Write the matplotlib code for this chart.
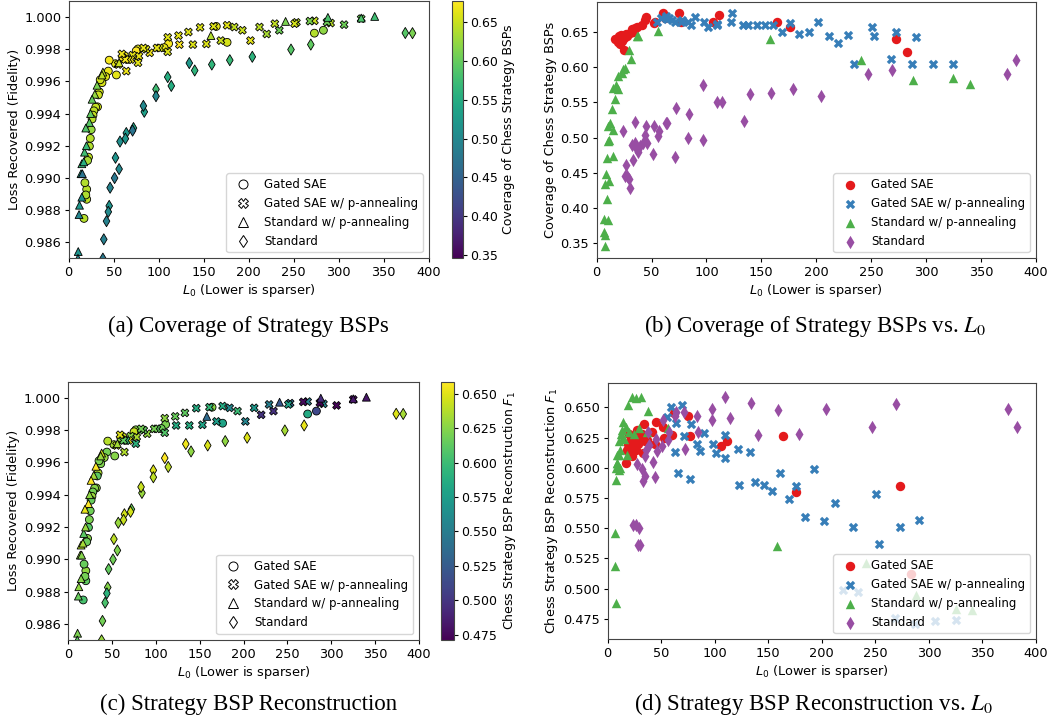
import numpy as np
import matplotlib
matplotlib.use('Agg')
import matplotlib.pyplot as plt
from matplotlib.colors import Normalize
from matplotlib.lines import Line2D

# ---- data: one entry per SAE (L0, fidelity, BSP coverage, BSP F1) ----
series_names = ['Gated SAE', 'Gated SAE w/ p-annealing',
                'Standard w/ p-annealing', 'Standard']

gated_l0 = [283, 273, 176, 164, 111, 106, 77, 75, 62, 60, 53, 52, 45, 44, 41, 37, 35,
            34, 33, 32, 30, 28, 27, 26, 25, 24, 23, 22, 21, 20, 20, 19, 18, 17]
gated_fid = [0.99918, 0.99900, 0.99843, 0.99942, 0.99835, 0.99810, 0.99802, 0.99790,
             0.99760, 0.99750, 0.99640, 0.99710, 0.99732, 0.99664, 0.99630, 0.99592,
             0.99610, 0.99535, 0.99516, 0.99442, 0.99440, 0.99417, 0.99390, 0.99366,
             0.99300, 0.99246, 0.99197, 0.99129, 0.99108, 0.98929, 0.98867, 0.98894,
             0.98970, 0.98748]
gated_cov = [0.621, 0.639, 0.656, 0.664, 0.673, 0.664, 0.664, 0.676, 0.669, 0.676,
             0.664, 0.662, 0.671, 0.666, 0.660, 0.657, 0.655, 0.653, 0.650, 0.654,
             0.648, 0.644, 0.646, 0.642, 0.624, 0.640, 0.637, 0.645, 0.633, 0.640,
             0.644, 0.636, 0.639, 0.640]
gated_f1 = [0.512, 0.585, 0.580, 0.626, 0.622, 0.618, 0.626, 0.643, 0.645, 0.627,
            0.625, 0.634, 0.638, 0.620, 0.630, 0.623, 0.622, 0.636, 0.612, 0.628,
            0.625, 0.620, 0.631, 0.615, 0.618, 0.622, 0.610, 0.625, 0.617, 0.628,
            0.613, 0.620, 0.615, 0.604]

gatedp_l0 = [325, 306, 291, 287, 273, 268, 253, 251, 234, 229, 220, 212, 202, 193, 184,
             176, 169, 161, 153, 146, 138, 133, 123, 122, 110, 110, 101, 98, 90, 86,
             83, 78, 77, 71, 69, 66, 64, 63, 59, 55]
gatedp_fid = [0.99990, 0.99953, 0.99963, 0.99969, 0.99977, 0.99975, 0.99967, 0.99959,
              0.99918, 0.99959, 0.99895, 0.99938, 0.99854, 0.99918, 0.99938, 0.99949,
              0.99854, 0.99942, 0.99833, 0.99936, 0.99829, 0.99907, 0.99829, 0.99885,
              0.99784, 0.99874, 0.99808, 0.99808, 0.99778, 0.99800, 0.99808, 0.99757,
              0.99716, 0.99763, 0.99736, 0.99735, 0.99664, 0.99736, 0.99771, 0.99705]
gatedp_cov = [0.604, 0.604, 0.643, 0.604, 0.650, 0.611, 0.644, 0.656, 0.604, 0.645,
              0.634, 0.644, 0.664, 0.650, 0.647, 0.662, 0.650, 0.659, 0.659, 0.659,
              0.660, 0.660, 0.677, 0.663, 0.660, 0.661, 0.656, 0.664, 0.671, 0.660,
              0.664, 0.666, 0.663, 0.663, 0.667, 0.669, 0.668, 0.672, 0.669, 0.664]
gatedp_f1 = [0.474, 0.473, 0.557, 0.471, 0.551, 0.476, 0.537, 0.578, 0.497, 0.551,
             0.499, 0.571, 0.556, 0.599, 0.559, 0.585, 0.574, 0.596, 0.581, 0.586,
             0.588, 0.613, 0.586, 0.616, 0.608, 0.627, 0.612, 0.620, 0.629, 0.614,
             0.620, 0.636, 0.591, 0.626, 0.652, 0.596, 0.637, 0.613, 0.650, 0.642]

stdp_l0 = [340, 325, 288, 241, 158, 56, 38, 37, 31.5, 29, 26, 24.3, 23, 19, 17.6, 19.7,
           14.6, 16.7, 13.7, 14.6, 12, 10.6, 11.5, 10.3, 15.2, 9, 11.5, 8.5, 7.9, 9.1,
           10.3, 6.7, 6.7, 7.9, 7.9]
stdp_fid = [1.00004, 0.99994, 0.99998, 0.99973, 0.99885, 0.99716, 0.99658, 0.99640,
            0.99576, 0.99520, 0.99489, 0.99400, 0.99345, 0.99310, 0.99160, 0.99200,
            0.99088, 0.99100, 0.99026, 0.98880, 0.98830, 0.98542, 0.98772, 0.98500,
            0.99026, 0.98400, 0.98450, 0.98350, 0.98300, 0.98250, 0.98200, 0.98100,
            0.98000, 0.98050, 0.97900]
stdp_cov = [0.576, 0.584, 0.582, 0.610, 0.639, 0.651, 0.644, 0.644, 0.611, 0.624,
            0.599, 0.597, 0.591, 0.587, 0.575, 0.569, 0.570, 0.554, 0.540, 0.511,
            0.521, 0.516, 0.496, 0.495, 0.474, 0.471, 0.438, 0.449, 0.434, 0.413,
            0.383, 0.385, 0.366, 0.362, 0.346]
stdp_f1 = [0.482, 0.483, 0.495, 0.521, 0.535, 0.633, 0.647, 0.630, 0.659, 0.633,
           0.658, 0.628, 0.659, 0.652, 0.611, 0.630, 0.638, 0.634, 0.631, 0.625,
           0.628, 0.622, 0.615, 0.611, 0.624, 0.604, 0.600, 0.611, 0.590, 0.604,
           0.598, 0.546, 0.519, 0.600, 0.488]

std_l0 = [382, 374, 269, 247, 204, 179, 159, 140, 134, 114, 110, 97, 97, 84, 83, 72, 71,
          64, 63, 57, 56, 52, 51, 46, 45, 44, 42, 39, 38, 36, 35, 35, 33, 32, 30, 29,
          28, 27, 26, 24]
std_fid = [0.99900, 0.99901, 0.99829, 0.99798, 0.99753, 0.99732, 0.99705, 0.99668,
           0.99714, 0.99572, 0.99627, 0.99551, 0.99508, 0.99411, 0.99448, 0.99310,
           0.99294, 0.99279, 0.99244, 0.99226, 0.99055, 0.99125, 0.98999, 0.98939,
           0.98826, 0.98789, 0.98731, 0.98618, 0.98498, 0.98400, 0.98350, 0.98300,
           0.98250, 0.98200, 0.98100, 0.98050, 0.98000, 0.97950, 0.97900, 0.97800]
std_cov = [0.610, 0.590, 0.596, 0.590, 0.559, 0.569, 0.563, 0.561, 0.523, 0.551, 0.551,
           0.574, 0.497, 0.533, 0.500, 0.542, 0.473, 0.521, 0.520, 0.510, 0.502, 0.517,
           0.477, 0.492, 0.516, 0.503, 0.493, 0.488, 0.479, 0.485, 0.522, 0.493, 0.468,
           0.490, 0.429, 0.441, 0.446, 0.461, 0.445, 0.509]
std_f1 = [0.634, 0.649, 0.653, 0.634, 0.649, 0.628, 0.648, 0.627, 0.654, 0.641, 0.659,
          0.649, 0.640, 0.630, 0.643, 0.616, 0.646, 0.646, 0.643, 0.630, 0.623, 0.640,
          0.618, 0.614, 0.624, 0.592, 0.605, 0.619, 0.630, 0.615, 0.610, 0.593, 0.589,
          0.599, 0.536, 0.550, 0.536, 0.603, 0.553, 0.553]

markers = ['o', 'X', '^', 'd']
set1_colors = ['#e41a1c', '#377eb8', '#4daf4a', '#984ea3']

all_l0 = [gated_l0, gatedp_l0, stdp_l0, std_l0]
all_fid = [gated_fid, gatedp_fid, stdp_fid, std_fid]
all_cov = [gated_cov, gatedp_cov, stdp_cov, std_cov]
all_f1 = [gated_f1, gatedp_f1, stdp_f1, std_f1]

W, H = 1058, 725
plt.rcParams['font.size'] = 9.3
plt.rcParams['xtick.major.size'] = 2.8
plt.rcParams['ytick.major.size'] = 2.8
plt.rcParams['xtick.major.pad'] = 2.6
plt.rcParams['ytick.major.pad'] = 2.6
plt.rcParams['axes.labelpad'] = 2.5
plt.rcParams['axes.edgecolor'] = '#444444'
fig = plt.figure(figsize=(W / 100, H / 100), dpi=100)


def px_axes(x0, y0, x1, y1):
    return fig.add_axes([x0 / W, 1 - y1 / H, (x1 - x0) / W, (y1 - y0) / H])


def hollow_handles():
    return [Line2D([], [], marker=m, linestyle='None', markerfacecolor='white',
                   markeredgecolor='black', markeredgewidth=0.7, markersize=6.5, label=n)
            for m, n in zip(markers, series_names)]


def color_panel(ax, cax, values, cbar_label, ticks):
    vals = np.concatenate([np.asarray(v) for v in values])
    norm = Normalize(vmin=vals.min(), vmax=vals.max())
    sc = None
    for l0, fid, v, m in zip(all_l0, all_fid, values, markers):
        sc = ax.scatter(l0, fid, c=v, cmap='viridis', norm=norm, marker=m, s=32,
                        edgecolors='black', linewidths=0.6)
    ax.set_xlim(0, 400)
    ax.set_ylim(0.985, 1.001)
    ax.set_yticks(np.arange(0.986, 1.0001, 0.002))
    ax.set_xlabel('$L_0$ (Lower is sparser)')
    ax.set_ylabel('Loss Recovered (Fidelity)')
    ax.legend(handles=hollow_handles(), loc='lower right', fontsize=8.5)
    cb = fig.colorbar(sc, cax=cax)
    cb.set_ticks(ticks)
    cb.ax.tick_params(labelsize=9)
    cb.set_label(cbar_label, fontsize=9)
    cb.outline.set_edgecolor('#444444')


def plain_panel(ax, values, ylabel, ylim):
    for l0, v, m, c, n in zip(all_l0, values, markers, set1_colors, series_names):
        ax.scatter(l0, v, color=c, marker=m, s=46, label=n, linewidths=0)
    ax.set_xlim(0, 400)
    ax.set_ylim(*ylim)
    ax.set_xlabel('$L_0$ (Lower is sparser)')
    ax.set_ylabel(ylabel)
    ax.legend(loc='lower right', fontsize=8.5)


# (a)
ax_a = px_axes(68.7, 1, 428.7, 258.3)
cax_a = px_axes(452, 1, 463, 258.3)
color_panel(ax_a, cax_a, all_cov, 'Coverage of Chess Strategy BSPs',
            [0.35, 0.40, 0.45, 0.50, 0.55, 0.60, 0.65])

# (b)
ax_b = px_axes(596.7, 2, 1035.7, 258.3)
plain_panel(ax_b, all_cov, 'Coverage of Chess Strategy BSPs', (0.329, 0.692))

# (c)
ax_c = px_axes(68.3, 381.7, 419, 640)
cax_c = px_axes(441, 381.7, 454, 640)
color_panel(ax_c, cax_c, all_f1, 'Chess Strategy BSP Reconstruction $F_1$',
            [0.475, 0.500, 0.525, 0.550, 0.575, 0.600, 0.625, 0.650])

# (d)
ax_d = px_axes(607.7, 383.3, 1036, 639.3)
plain_panel(ax_d, all_f1, 'Chess Strategy BSP Reconstruction $F_1$', (0.458, 0.670))

captions = ['(a) Coverage of Strategy BSPs', '(b) Coverage of Strategy BSPs vs. $L_0$',
            '(c) Strategy BSP Reconstruction', '(d) Strategy BSP Reconstruction vs. $L_0$']
cap_pos = [(248, 326), (815, 326), (249, 704), (814, 704)]
for txt, (cx, cy) in zip(captions, cap_pos):
    fig.text(cx / W, 1 - cy / H, txt, ha='center', va='center', fontsize=16.5,
             family='Liberation Serif', math_fontfamily='stix')

fig.savefig('out.png', dpi=100)
